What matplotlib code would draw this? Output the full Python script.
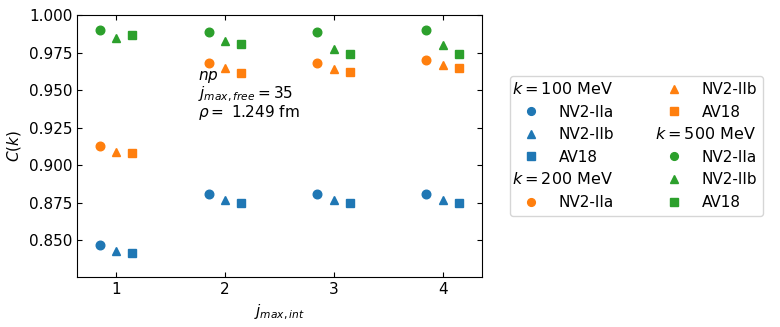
import matplotlib
matplotlib.use("Agg")
import matplotlib.pyplot as plt
from matplotlib.legend_handler import HandlerBase
from matplotlib.text import Text

plt.rcParams['font.size'] = 11

jmax_int = [1, 2, 3, 4]
potentials = ['NV2-IIa', 'NV2-IIb', 'AV18']
k_labels = ['$k = $100 MeV', '$k = $200 MeV', '$k = $500 MeV']

# C(k) per k, per potential, over jmax_int
c_k100 = {
    'NV2-IIa': [0.8471, 0.8809, 0.8809, 0.8809],
    'NV2-IIb': [0.8429, 0.8767, 0.8765, 0.8767],
    'AV18':    [0.8418, 0.8748, 0.8749, 0.8749],
}
c_k200 = {
    'NV2-IIa': [0.9129, 0.9680, 0.9680, 0.9700],
    'NV2-IIb': [0.9090, 0.9644, 0.9643, 0.9665],
    'AV18':    [0.9082, 0.9616, 0.9620, 0.9644],
}
c_k500 = {
    'NV2-IIa': [0.9900, 0.9884, 0.9890, 0.9902],
    'NV2-IIb': [0.9845, 0.9824, 0.9777, 0.9800],
    'AV18':    [0.9864, 0.9804, 0.9738, 0.9742],
}

colors = ['tab:blue', 'tab:orange', 'tab:green']
markers = {'NV2-IIa': 'o', 'NV2-IIb': '^', 'AV18': 's'}
offsets = {'NV2-IIa': -0.15, 'NV2-IIb': 0.0, 'AV18': 0.15}


class Header(object):
    def __init__(self, text):
        self.text = text


class HeaderHandler(HandlerBase):
    def legend_artist(self, legend, orig_handle, fontsize, handlebox):
        t = Text(-3, 0, orig_handle.text, fontsize=fontsize * 1.05, va='baseline', ha='left')
        handlebox.add_artist(t)
        return t


fig = plt.figure(figsize=(7.8, 3.27), dpi=100)
ax = fig.add_axes([0.099, 0.153, 0.519, 0.801])

handles = []
labels = []
for kl, data, col in zip(k_labels, [c_k100, c_k200, c_k500], colors):
    handles.append(Header(kl))
    labels.append('')
    for p in potentials:
        xs = [j + offsets[p] for j in jmax_int]
        h, = ax.plot(xs, data[p], linestyle='none', marker=markers[p], color=col, markersize=6.2)
        handles.append(h)
        labels.append(p)

ax.text(1.755, 0.9285, '$np$\n$j_{max,free} = 35$\n$\\rho = $ 1.249 fm', va='bottom', ha='left',
        linespacing=0.95)

ax.set_xlim(0.645, 4.36)
ax.set_ylim(0.8255, 1.0)
ax.set_xticks(jmax_int)
ax.set_yticks([0.85, 0.875, 0.9, 0.925, 0.95, 0.975, 1.0])
ax.tick_params(direction='in', top=True, right=True)
ax.set_xlabel('$j_{max,int}$')
ax.set_ylabel('$C(k)$')

ax.legend(handles, labels, handler_map={Header: HeaderHandler()}, ncol=2,
          loc='center left', bbox_to_anchor=(1.05, 0.5), handlelength=2.0,
          markerscale=0.9, columnspacing=2.9)

plt.savefig('out.png', dpi=100)
